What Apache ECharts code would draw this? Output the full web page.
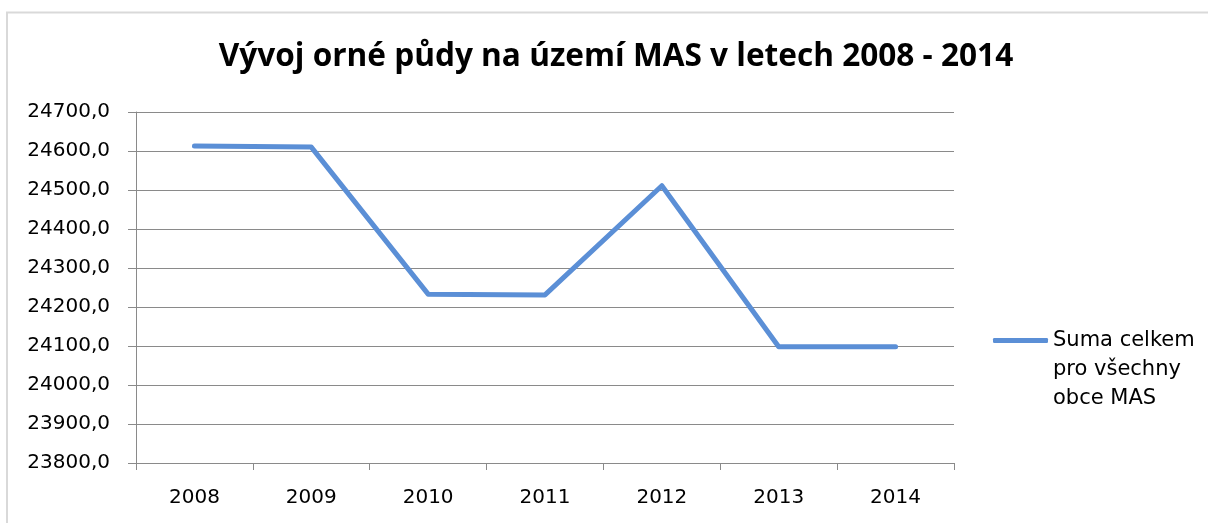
<!DOCTYPE html>
<html>
<head>
<meta charset="utf-8">
<script src="https://cdn.jsdelivr.net/npm/echarts@6/dist/echarts.min.js"></script>
<style>
  html, body { margin: 0; padding: 0; background: #fff; }
  #chart { width: 1208px; height: 523px; }
</style>
</head>
<body>
<div id="chart"></div>
<script>
const titleText = 'Vývoj orné půdy na území MAS v letech 2008 - 2014';
const categories = ['2008', '2009', '2010', '2011', '2012', '2013', '2014'];
const seriesName = 'Suma celkem pro všechny obce MAS';
const legendLines = ['Suma celkem', 'pro všechny', 'obce MAS'];
const values = [24613, 24610, 24233, 24231, 24511, 24098, 24098];
const yMin = 23800, yMax = 24700, yStep = 100;

const chart = echarts.init(document.getElementById('chart'), null, { renderer: 'canvas' });
const font = 'DejaVu Sans';
chart.setOption({
  backgroundColor: '#ffffff',
  animation: false,
  graphic: [{
    type: 'rect', silent: true, z: -10,
    shape: { x: 7, y: 12.5, width: 1400, height: 700 },
    style: { fill: 'none', stroke: '#d9d9d9', lineWidth: 2 }
  }],
  title: {
    text: titleText,
    left: 616, top: 41, padding: 0,
    textAlign: 'center',
    textStyle: { fontFamily: 'Open Sans', fontWeight: 'bold', fontSize: 31.6, color: '#000' }
  },
  legend: {
    show: true,
    left: 993, top: 268, padding: 0,
    orient: 'vertical',
    icon: 'roundRect',
    itemWidth: 55, itemHeight: 5,
    formatter: () => '\n\n' + legendLines.join('\n'),
    textStyle: { fontFamily: font, fontSize: 21, color: '#000', lineHeight: 29 },
    data: [seriesName]
  },
  grid: { left: 136, right: 254, top: 112, bottom: 60, containLabel: false },
  xAxis: {
    type: 'category',
    data: categories,
    boundaryGap: true,
    axisLine: { lineStyle: { color: '#8a8a8a', width: 1 } },
    axisTick: { show: true, length: 7, alignWithLabel: false, lineStyle: { color: '#8a8a8a' } },
    axisLabel: { margin: 25, fontFamily: font, fontSize: 20, color: '#000' },
    splitLine: { show: false }
  },
  yAxis: {
    type: 'value',
    min: yMin, max: yMax, interval: yStep,
    axisLine: { show: true, lineStyle: { color: '#8a8a8a', width: 1 } },
    axisTick: { show: true, length: 8, lineStyle: { color: '#8a8a8a' } },
    axisLabel: {
      margin: 26, fontFamily: font, fontSize: 20, color: '#000',
      formatter: v => v.toFixed(1).replace('.', ',')
    },
    splitLine: { show: true, lineStyle: { color: '#8a8a8a', width: 1 } }
  },
  series: [{
    name: seriesName,
    type: 'line',
    data: values,
    symbol: 'none',
    color: '#5b8fd6',
    lineStyle: { width: 5, color: '#5b8fd6', cap: 'round', join: 'round' }
  }]
});
</script>
</body>
</html>
